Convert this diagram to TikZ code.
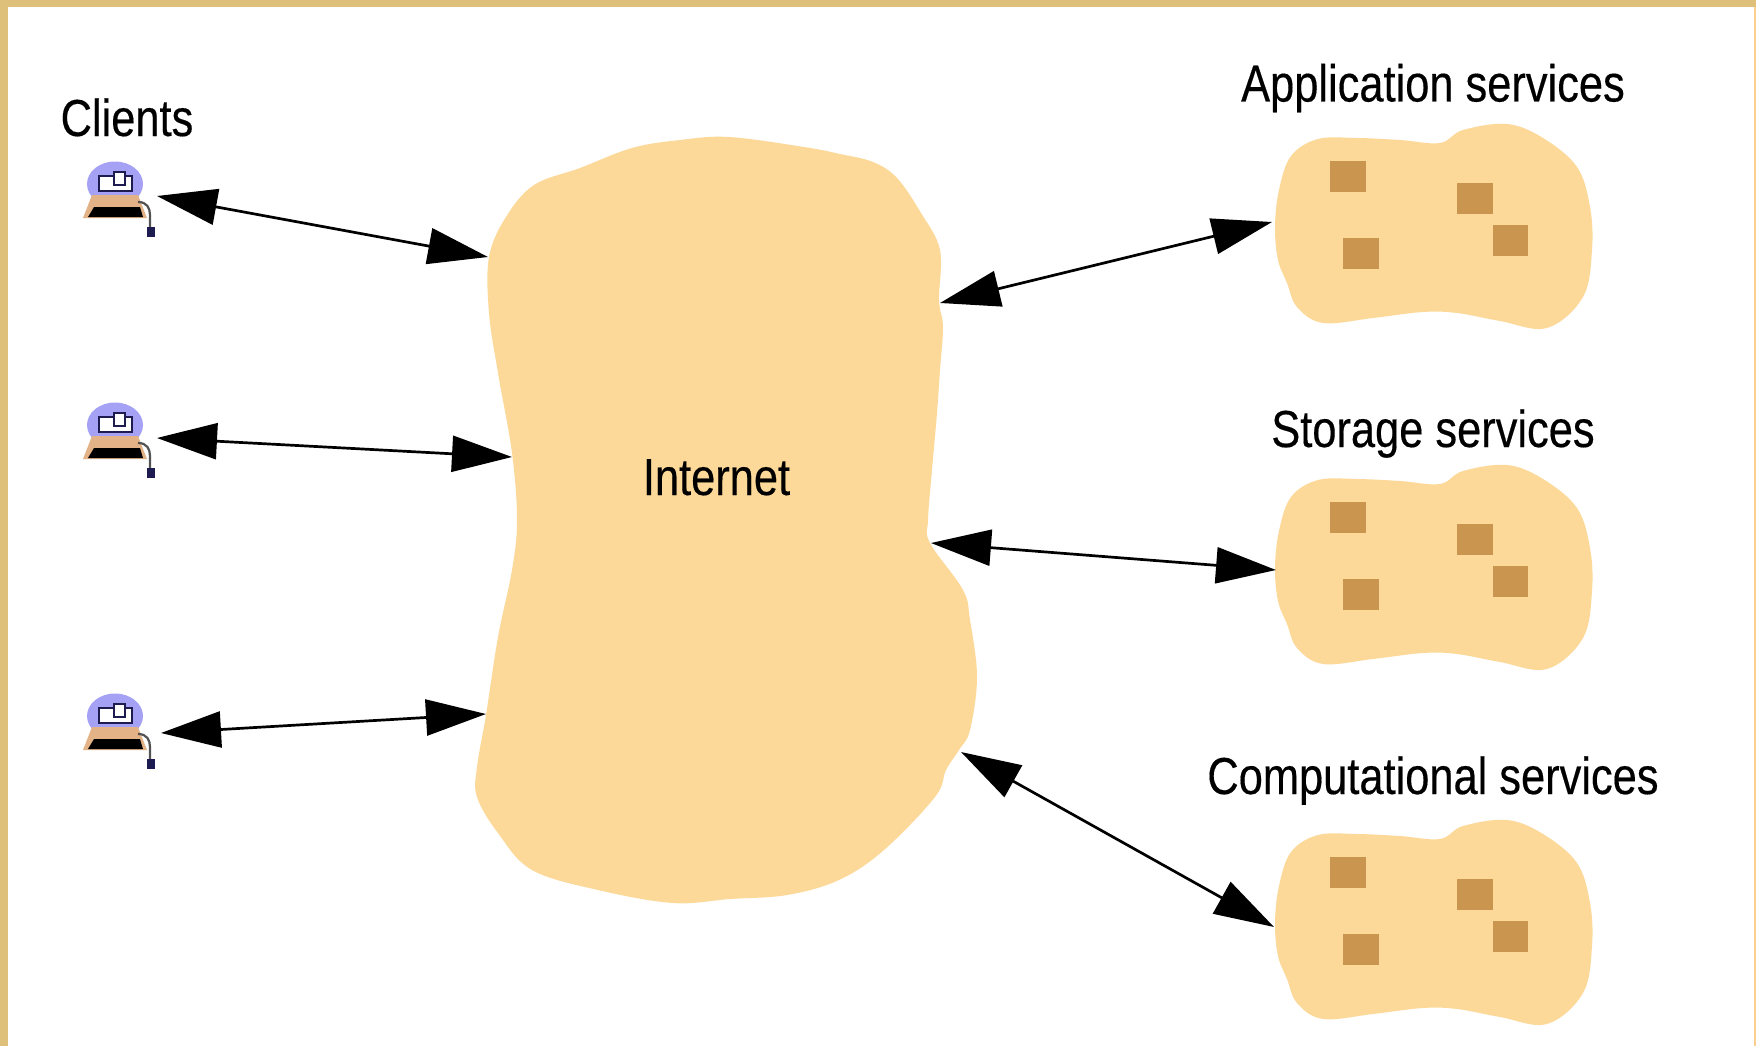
\documentclass[tikz,border=0pt]{standalone}
\usepackage{fontspec}
\setmainfont{Liberation Sans}[FakeStretch=0.835,FakeBold=0.3]
\usetikzlibrary{arrows.meta}
\definecolor{frameTan}{HTML}{DFC07B}
\definecolor{frameRight}{HTML}{FBD08E}
\definecolor{blob}{HTML}{FCD998}
\definecolor{chip}{HTML}{C9954F}
\definecolor{screenBlue}{HTML}{A5A2F5}
\definecolor{bodyTan}{HTML}{E3B387}
\definecolor{navy}{HTML}{1D1B4F}
\tikzset{
  x=1pt,y=-1pt,
  lbl/.style={font=\fontsize{52}{60}\selectfont,text=black,anchor=base,inner sep=0pt},
  link/.style={line width=2.7pt,black,{Triangle[length=60pt,width=36pt]}-{Triangle[length=60pt,width=36pt]}},
  blobfill/.style={fill=blob,draw=none},
  chipbox/.style={fill=chip,draw=none},
  pics/client/.style={code={
    \begin{scope}
      \clip (80,150) rectangle (150,196);
      \fill[screenBlue] (115,184) ellipse [x radius=28,y radius=22.5];
    \end{scope}
    \fill[bodyTan] (92,195) -- (138,195) -- (147,218) -- (83,218) -- cycle;
    \fill[black] (94,207) -- (140,207) -- (143,217) -- (88,217) -- cycle;
    \draw[navy,line width=2.6pt,fill=white] (99,176) rectangle (132,191);
    \draw[navy,line width=2.6pt,fill=white] (114,172) rectangle (125,185);
    \draw[black!35!gray,line width=2.2pt] (138,202) .. controls (147,202) and (150,208) .. (150,215) -- (150,229);
    \fill[navy] (146.5,227) rectangle (155,237);
  }},
  pics/service/.style={code={
    \fill[blobfill] plot[smooth cycle,tension=0.6] coordinates {
      (1318,139) (1357,138) (1400,140) (1440,143) (1463,130) (1507,124) (1543,138)
      (1577,167) (1590,207) (1592,250) (1583,297) (1547,328) (1500,321) (1457,313)
      (1423,312) (1373,318) (1323,323) (1297,307) (1287,283) (1278,260) (1275,227) (1279,190) (1291,156)};
    \fill[chipbox] (1330,161) rectangle (1366,192);
    \fill[chipbox] (1457,183) rectangle (1493,214);
    \fill[chipbox] (1493,225) rectangle (1528,256);
    \fill[chipbox] (1343,238) rectangle (1379,269);
  }}
}
\begin{document}
\begin{tikzpicture}
  \useasboundingbox (0,0) rectangle (1756,1046);
  \fill[white] (0,0) rectangle (1756,1046);
  \fill[frameTan] (0,0) rectangle (1756,7);
  \fill[frameTan] (0,0) rectangle (8,1046);
  \fill[frameRight] (1754,7) rectangle (1756,1046);

  % Internet cloud
  \fill[blobfill] plot[smooth cycle,tension=0.6] coordinates {
    (534,185) (580,168) (632,148) (680,140) (729,137) (804,147) (840,154) (873,162) (897,178)
    (921,213) (940,250) (939,300) (943,327) (940,370) (937,413) (932,470) (928,520) (930,543)
    (963,590) (970,620) (977,677) (970,730) (959,750) (946,770) (935,797)
    (884,850) (839,880) (787,895) (730,899) (673,903) (598,890) (532,870) (498,833)
    (477,797) (477,767) (486,715) (498,637) (512,570) (517,520) (512,453)
    (498,373) (489,313) (489,257) (506,217)};
  \node[lbl] (internet) at (716.5,495) {Internet};

  % Clients
  \node[lbl] (clients) at (127,136) {Clients};
  \pic at (0,0) {client};
  \pic at (0,241) {client};
  \pic at (0,532) {client};

  % Services
  \pic at (0,0) {service};
  \pic at (0,341) {service};
  \pic at (0,696) {service};
  \node[lbl] (app) at (1433,101.5) {Application services};
  \node[lbl] (sto) at (1433,447) {Storage services};
  \node[lbl] (com) at (1433,794) {Computational services};

  % Connector ends
  \coordinate (c1) at (157,196);  \coordinate (n1) at (488,257);
  \coordinate (c2) at (157,438);  \coordinate (n2) at (512,457);
  \coordinate (c3) at (161,733);  \coordinate (n3) at (486,714);
  \coordinate (n4) at (940,303);  \coordinate (s1) at (1272,222);
  \coordinate (n5) at (931,543);  \coordinate (s2) at (1276,570);
  \coordinate (n6) at (961,752);  \coordinate (s3) at (1274,927);
  \draw[link] (c1) -- (n1);
  \draw[link] (c2) -- (n2);
  \draw[link] (c3) -- (n3);
  \draw[link] (n4) -- (s1);
  \draw[link] (n5) -- (s2);
  \draw[link] (n6) -- (s3);
\end{tikzpicture}
\end{document}
